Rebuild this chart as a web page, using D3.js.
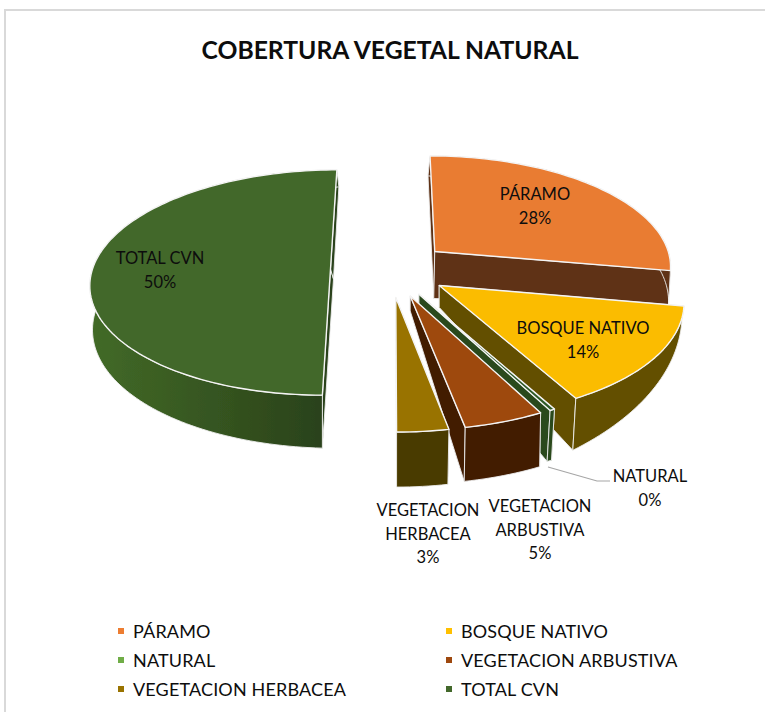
<!DOCTYPE html>
<html><head><meta charset="utf-8">
<script src="https://cdn.jsdelivr.net/npm/d3@7"></script>
<style>html,body{margin:0;padding:0;background:#fff}svg{display:block}text{font-family:Lato,"Open Sans",sans-serif;fill:#0d0d0d}</style>
</head><body><div id="c"></div>
<script>
const categories=["PÁRAMO","BOSQUE NATIVO","NATURAL","VEGETACION ARBUSTIVA","VEGETACION HERBACEA","TOTAL CVN"];
const values=[27.8,14.2,0.3,4.7,3,50];
const percentLabels=["28%","14%","0%","5%","3%","50%"];
const legendColors=["#ED7D31","#FFC000","#70AD47","#9E480E","#997300","#43682B"];
const topColors=["#E97C33","#FBBC00","#2F5A28","#9E480E","#997300","#43682B"];
const wallColors=["#5E3216","#634F00","#2C4A1E","#421E06","#4A3A00","url(#wallTotal)"];
const labelLines=[["PÁRAMO"],["BOSQUE NATIVO"],["NATURAL"],["VEGETACION","ARBUSTIVA"],["VEGETACION","HERBACEA"],["TOTAL CVN"]];
const labelAnchors=[[535,194],[583,328],[650,476],[540,506],[428,510],[160,258]];
// depth offsets of the extruded walls: start of rim, end of rim, apex
const depth=[
 {s:[-2,20],e:[-2,35],a:[-1,47]},
 {s:[-2,13],e:[-3,52],a:[0,22]},
 {s:[-3,51],e:[-3,51],a:[0,15]},
 {s:[-1,54],e:[-1,54],a:[0,15]},
 {s:[-1,55],e:[0,55],a:[0,15]},
 {s:[0,53],e:[2,17],a:[3,10],m:[3,42]}
];
const W=765,H=712,cx=390,cy=269,A=238,B=111,K=0.12,EXPLODE=0.25,ROT=0;
const svg=d3.select("#c").append("svg").attr("width",W).attr("height",H);
const defs=svg.append("defs");
const g=defs.append("linearGradient").attr("id","wallTotal").attr("gradientUnits","userSpaceOnUse").attr("x1",92).attr("x2",322).attr("y1",0).attr("y2",0);
g.append("stop").attr("offset",0).attr("stop-color","#426A27");
g.append("stop").attr("offset",1).attr("stop-color","#2A421A");
defs.append("filter").attr("id","soft").append("feGaussianBlur").attr("stdDeviation",0.4);

// chart frame: only top and left edges are in view
svg.append("path").attr("d",d3.line()([[5,H],[5,10],[W,10]])).attr("fill","none").attr("stroke","#d9d9d9").attr("stroke-width",2);

const pie=d3.pie().sort(null).value(d=>d).startAngle(ROT).endAngle(ROT+2*Math.PI);
const arcs=pie(values);
const project=(X,Y)=>{const w=1-K*Y;return [cx+A*X/w,cy+B*Y/w];};
const line=d3.line();
const layer=svg.append("g").attr("filter","url(#soft)");
const drawOrder=[0,5,1,2,3,4];
drawOrder.forEach(i=>{
  const d=arcs[i],m=(d.startAngle+d.endAngle)/2;
  const ox=EXPLODE*Math.sin(m),oy=-EXPLODE*Math.cos(m);
  const pt=a=>project(ox+Math.sin(a),oy-Math.cos(a));
  const apex=project(ox,oy);
  const n=Math.max(6,Math.round((d.endAngle-d.startAngle)*40));
  const ts=d3.range(n+1).map(k=>k/n);
  const ang=d3.scaleLinear().domain([0,1]).range([d.startAngle,d.endAngle]);
  const rim=ts.map(t=>pt(ang(t)));
  const D=depth[i];
  const off=t=>{
    if(D.m){return t<.5?[D.s[0]+(D.m[0]-D.s[0])*t*2,D.s[1]+(D.m[1]-D.s[1])*t*2]
                       :[D.m[0]+(D.e[0]-D.m[0])*(t-.5)*2,D.m[1]+(D.e[1]-D.m[1])*(t-.5)*2];}
    return [D.s[0]+(D.e[0]-D.s[0])*t,D.s[1]+(D.e[1]-D.s[1])*t];
  };
  const low=rim.map((p,k)=>{const o=off(ts[k]);return [p[0]+o[0],p[1]+o[1]];});
  const apexLow=[apex[0]+D.a[0],apex[1]+D.a[1]];
  const wall=pts=>layer.append("path").attr("d",line(pts)+"Z").attr("fill",wallColors[i]).attr("stroke","#eee").attr("stroke-width",0.9).attr("stroke-linejoin","round");
  wall([apex,rim[0],low[0],apexLow]);
  wall([apex,rim[n],low[n],apexLow]);
  wall(rim.concat(low.slice().reverse()));
  layer.append("path").attr("d",line([apex].concat(rim))+"Z").attr("fill",topColors[i]).attr("stroke","#f4f4f4").attr("stroke-width",1.4).attr("stroke-linejoin","round");
});

// leader line for NATURAL
svg.append("path").attr("d",line([[548,467],[597,481],[610,481]])).attr("fill","none").attr("stroke","#a6a6a6").attr("stroke-width",1.2);

// title
svg.append("text").attr("x",390).attr("y",58.5).attr("text-anchor","middle").attr("font-size",24.7).attr("font-weight",700).attr("fill","#000").text("COBERTURA VEGETAL NATURAL");

// labels
categories.forEach((c,i)=>{
  const [x,y]=labelAnchors[i];
  const lines=labelLines[i].concat(percentLabels[i]);
  lines.forEach((s,k)=>{
    svg.append("text").attr("x",x).attr("y",y+k*23.5+6).attr("text-anchor","middle").attr("font-size",16.5).text(s);
  });
});

// legend
const colX=d3.scaleOrdinal().domain([0,1]).range([118,446]);
const rowY=d3.scaleLinear().domain([0,2]).range([631,689]);
categories.forEach((c,i)=>{
  const col=i%2,row=Math.floor(i/2);
  svg.append("rect").attr("x",colX(col)).attr("y",rowY(row)-3).attr("width",6).attr("height",6).attr("fill",legendColors[i]);
  svg.append("text").attr("x",colX(col)+15).attr("y",rowY(row)+6.5).attr("font-size",18).attr("letter-spacing",0.15).text(c);
});
</script></body></html>
